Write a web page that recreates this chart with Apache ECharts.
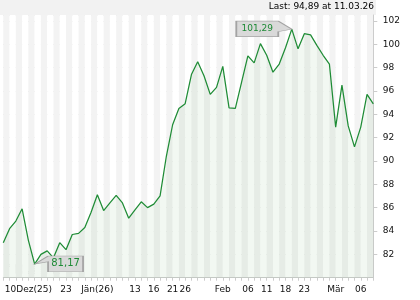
<!DOCTYPE html>
<html><head><meta charset="utf-8">
<script src="https://cdn.jsdelivr.net/npm/echarts@6/dist/echarts.min.js"></script>
<style>html,body{margin:0;padding:0;background:#fff}#c{width:420px;height:300px}</style>
</head><body><div id="c"></div>
<script>
const dates = ['11.12.25','12.12.25','15.12.25','16.12.25','17.12.25','18.12.25','19.12.25','22.12.25','23.12.25','29.12.25',
'30.12.25','02.01.26','05.01.26','06.01.26','07.01.26','08.01.26','09.01.26','12.01.26','13.01.26','14.01.26',
'15.01.26','16.01.26','19.01.26','20.01.26','21.01.26','22.01.26','23.01.26','26.01.26','27.01.26','28.01.26',
'29.01.26','30.01.26','02.02.26','03.02.26','04.02.26','05.02.26','06.02.26','09.02.26','10.02.26','11.02.26',
'12.02.26','13.02.26','16.02.26','17.02.26','18.02.26','19.02.26','20.02.26','23.02.26','24.02.26','25.02.26',
'26.02.26','27.02.26','02.03.26','03.03.26','04.03.26','05.03.26','06.03.26','09.03.26','10.03.26','11.03.26'];
const prices = [83.0,84.2,84.85,85.9,83.2,81.17,82.0,82.3,81.7,83.0,
82.4,83.7,83.8,84.3,85.6,87.1,85.75,86.4,87.05,86.4,
85.1,85.8,86.5,86.0,86.3,87.0,90.4,93.1,94.5,94.9,
97.4,98.5,97.3,95.7,96.3,98.1,94.55,94.5,96.75,99.0,
98.4,100.05,99.05,97.6,98.3,99.7,101.29,99.6,100.9,100.8,
99.9,99.05,98.3,92.9,96.5,93.0,91.2,92.9,95.7,94.89];
const tickIdx = [4,10,15,21,24,27,29,35,39,42,45,48,53,57];
const tickText = ['10Dez(25)','23','Jän(26)','13','16','21','26','Feb','06','11','18','23','Mär','06'];

const FONT = 'DejaVu Sans';
const fmt = v => Number(v).toFixed(2).replace('.', ',');
const lastVal = prices[prices.length - 1];
const lastDate = dates[dates.length - 1];

const chart = echarts.init(document.getElementById('c'), null, {renderer: 'canvas'});
chart.setOption({
  animation: false,
  backgroundColor: '#fff',
  textStyle: {fontFamily: FONT},
  graphic: [
    {type: 'rect', left: 0, top: 0, shape: {width: 376, height: 15}, style: {fill: '#f2f2f2'}, z: -10, silent: true},
    {type: 'text', left: 8, top: 264, z: -5, silent: true,
     style: {text: 'TELEBÖRSE', font: 'bold 11px "Liberation Sans"', fill: 'rgba(255,255,255,0.85)', stroke: '#c4c4c4', lineWidth: 1}}
  ],
  title: {
    text: 'Last: ' + fmt(lastVal) + ' at ' + lastDate,
    right: 46, top: 2, padding: 0,
    textStyle: {fontFamily: FONT, fontSize: 9, fontWeight: 'normal', color: '#000'}
  },
  grid: {left: 3.3, right: 46.7, top: 15, bottom: 22.3, containLabel: false},
  xAxis: {
    type: 'category',
    data: dates,
    boundaryGap: false,
    axisLine: {show: true, lineStyle: {color: '#cccccc'}},
    axisTick: {show: true, interval: 0, length: 3, lineStyle: {color: '#cccccc'}},
    axisLabel: {
      interval: (i) => tickIdx.includes(i),
      formatter: (v, i) => { const k = tickIdx.indexOf(i); return k >= 0 ? tickText[k] : ''; },
      fontFamily: FONT, fontSize: 9, color: '#111', margin: 7
    },
    splitLine: {show: false},
    splitArea: {show: true, interval: 0, areaStyle: {color: ['#f3f3f3', '#ffffff']}}
  },
  yAxis: {
    type: 'value',
    position: 'right',
    min: 80, max: 102.5, interval: 2,
    axisLine: {show: true, lineStyle: {color: '#cccccc'}},
    axisTick: {show: true, length: 4, lineStyle: {color: '#cccccc'}},
    axisLabel: {fontFamily: FONT, fontSize: 9, color: '#111', margin: 9.5, showMinLabel: false, showMaxLabel: false},
    splitLine: {show: true, lineStyle: {color: '#dddddd', width: 1}}
  },
  series: [{
    type: 'line',
    data: prices,
    symbol: 'none',
    lineStyle: {color: '#1f8c36', width: 1.25},
    areaStyle: {color: 'rgba(40,130,40,0.085)', origin: 'start'},
    markPoint: {
      silent: true,
      data: [
        {type: 'max', symbol: 'path://M0,0 L42,0 L55.5,8 L42,10.5 L42,15.5 L0,15.5 Z',
         symbolSize: [55.5, 15.5], symbolOffset: [-27.75, -0.25],
         itemStyle: {color: '#d9d9d9', borderColor: '#a3a3a3', borderWidth: 1},
         label: {show: true, position: 'inside', offset: [-6.75, 0], formatter: p => fmt(p.value),
                 fontFamily: FONT, fontSize: 9, color: '#1e8a36'}},
        {type: 'min', symbol: 'path://M0,8 L13.4,0 L48.4,0 L48.4,15.7 L13.4,15.7 L13.4,5.7 Z',
         symbolSize: [48.4, 15.7], symbolOffset: [24.2, -0.15],
         itemStyle: {color: '#d9d9d9', borderColor: '#a3a3a3', borderWidth: 1},
         label: {show: true, position: 'inside', offset: [6.7, 0], formatter: p => fmt(p.value),
                 fontFamily: FONT, fontSize: 10, color: '#1e8a36'}}
      ]
    }
  }]
});
</script></body></html>
